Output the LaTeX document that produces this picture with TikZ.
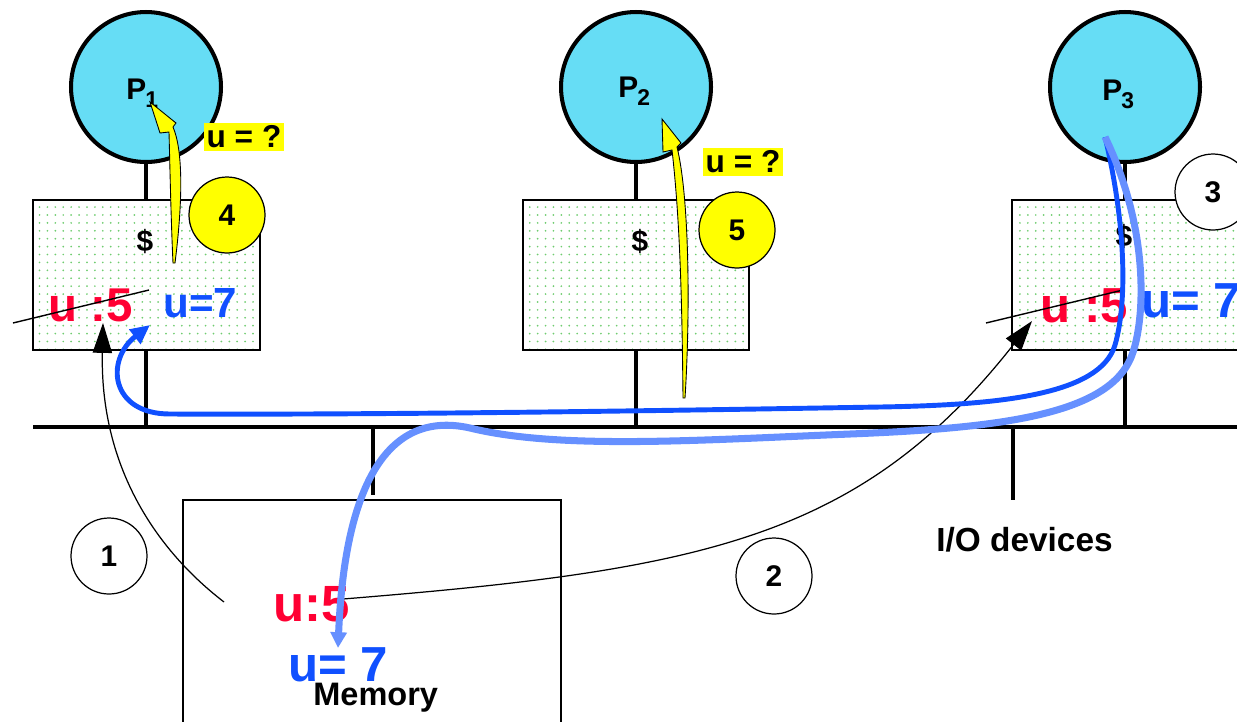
\documentclass[tikz,border=0pt]{standalone}
\usepackage{fontspec}
\setmainfont{Liberation Sans}
\usetikzlibrary{arrows.meta,patterns.meta}
\definecolor{CpuCyan}{HTML}{66DDF5}
\definecolor{ValRed}{HTML}{FF0033}
\definecolor{ValBlue}{HTML}{1050FF}
\definecolor{ValBlueLight}{HTML}{6690FF}
\definecolor{DotGreen}{HTML}{70CC70}
\definecolor{MarkYellow}{HTML}{FFFF00}
\newcommand{\procname}[1]{P\kern-0.5pt\raisebox{-5pt}{\fontsize{13}{13}\selectfont #1}}

\begin{document}
\begin{tikzpicture}[
  x=0.02cm, y=-0.02cm,
  font=\bfseries\fontsize{17}{20}\selectfont,
  proc/.style={circle,draw,line width=2.3pt,fill=CpuCyan,minimum size=3.0cm,inner sep=0pt},
  cachebox/.style={draw,line width=0.7pt,pattern={Dots[distance=4.5pt,radius=0.55pt]},
    pattern color=DotGreen,minimum height=3.0cm,inner sep=0pt},
  num/.style={circle,draw,line width=0.7pt,fill=white,minimum size=1.52cm,inner sep=0pt},
  ask/.style={fill=MarkYellow,inner sep=1.5pt,font=\bfseries\fontsize{18}{20}\selectfont},
  val/.style={inner sep=0pt,anchor=base west},
  stem/.style={line width=2.3pt},
  thinarr/.style={line width=0.7pt,-{Triangle[length=17pt,width=11pt]}},
  flowdark/.style={ValBlue,line width=2.8pt,-{Triangle[length=11pt,width=10pt]}},
  flowlight/.style={ValBlueLight,line width=4pt,-{Triangle[length=9pt,width=9pt]}},
  readarr/.style={fill=MarkYellow,draw=black,line width=0.5pt}
]
  \useasboundingbox (0,0) rectangle (1237,721);
  \clip (0,0) rectangle (1237,721);

  % Bus and memory.
  \coordinate (busL) at (33,427);
  \coordinate (busR) at (1250,427);
  \draw[line width=2.8pt] (busL) -- (busR);
  \node[draw,line width=0.7pt,minimum width=7.56cm,minimum height=4.8cm] (mem) at (372,620) {};
  \draw[stem] (373,427) -- (373,495);
  \node[val] (memlabel) at (313,705) {\fontsize{18.5}{20}\selectfont Memory};
  \draw[stem] (1013,427) -- (1013,500);
  \node[val] (io) at (936,551) {\fontsize{19}{20}\selectfont I/O devices};

  % Processors with their caches.
  \node[proc] (P1) at (146,87) {};
  \node[proc] (P2) at (636,87) {};
  \node[proc] (P3) at (1125,87) {};
  \node[val] (P1name) at (126,99) {\procname{1}};
  \node[val] (P2name) at (618,97) {\procname{2}};
  \node[val] (P3name) at (1102,100) {\procname{3}};
  \node[cachebox,minimum width=4.54cm] (cache1) at (146.5,275) {};
  \node[cachebox,minimum width=4.52cm] (cache2) at (636,275) {};
  \node[cachebox,minimum width=5.2cm] (cache3) at (1142,275) {};
  \foreach \p/\c in {P1/cache1,P2/cache2,P3/cache3}{
    \draw[stem] (\p.south) -- (\p.south |- \c.north);
    \draw[stem] (\p.south |- \c.south) -- (\p.south |- busL);
  }
  \node (dollar1) at (145,242) {\$};
  \node (dollar2) at (640,242) {\$};
  \node (dollar3) at (1124,237) {\$};

  % Values held in caches and memory.
  \node[val,text=ValRed,font=\bfseries\fontsize{27}{30}\selectfont] (old1) at (48,321) {u :5};
  \node[val,text=ValBlue,font=\bfseries\fontsize{24}{28}\selectfont] (new1) at (163,317) {u=7};
  \node[val,text=ValRed,font=\bfseries\fontsize{28}{30}\selectfont] (old3) at (1040,322) {u :5};
  \node[val,text=ValBlue,font=\bfseries\fontsize{28}{30}\selectfont] (new3) at (1141,317) {u= 7};
  \node[val,text=ValRed,font=\bfseries\fontsize{29}{30}\selectfont] (oldm) at (273,621) {u:5};
  \node[val,text=ValBlue,font=\bfseries\fontsize{28}{30}\selectfont] (newm) at (288,681) {u= 7};
  \draw[line width=0.8pt] (13,323) -- (149,290);
  \draw[line width=0.8pt] (986,323) -- (1123,290);

  % Step numbers.
  \node[num] (n1) at (109,556) {1};
  \node[num] (n2) at (774,576) {2};
  \node[num] (n3) at (1213,192) {3};
  \node[num,fill=MarkYellow] (n4) at (227,215) {4};
  \node[num,fill=MarkYellow] (n5) at (737,230) {5};
  \node[ask] (ask1) at (244,137) {u = ?};
  \node[ask] (ask2) at (743,162) {u = ?};

  % Reads of u.
  \coordinate (r1) at (173,263);
  \coordinate (r2) at (683,398);
  \path[readarr] (r1) .. controls (171,220) and (170,170) .. (169,132) -- (160,133)
    -- (150,102) -- (176,123) -- (173,127) .. controls (183,150) and (183,200) .. (175,263) -- cycle;
  \path[readarr] (r2) .. controls (682,300) and (680,220) .. (672,150) -- (663,152)
    -- (662,119) -- (681,143) -- (677,147) .. controls (690,200) and (690,320) .. (685,398) -- cycle;

  % Loads from memory.
  \coordinate (m1) at (224,602);
  \coordinate (m2) at (343,599);
  \coordinate (t1) at (103,323);
  \coordinate (t3) at (1032,321);
  \draw[thinarr] (m1) .. controls (150,545) and (100,460) .. (t1);
  \draw[thinarr] (m2) .. controls (700,570) and (860,540) .. (t3);

  % Write by P3.
  \coordinate (w3) at (1105,137);
  \coordinate (t2) at (150,325);
  \coordinate (tm) at (338,648);
  \draw[flowdark] (w3) .. controls (1125,220) and (1128,300) .. (1115,345)
    .. controls (1100,395) and (1000,405) .. (880,407)
    .. controls (700,410) and (400,415) .. (170,414)
    .. controls (110,414) and (105,360) .. (t2);
  \draw[flowlight] (w3) .. controls (1150,230) and (1145,320) .. (1132,355)
    .. controls (1110,415) and (1000,428) .. (850,434)
    .. controls (700,440) and (560,450) .. (470,428)
    .. controls (390,410) and (345,480) .. (tm);
\end{tikzpicture}
\end{document}
